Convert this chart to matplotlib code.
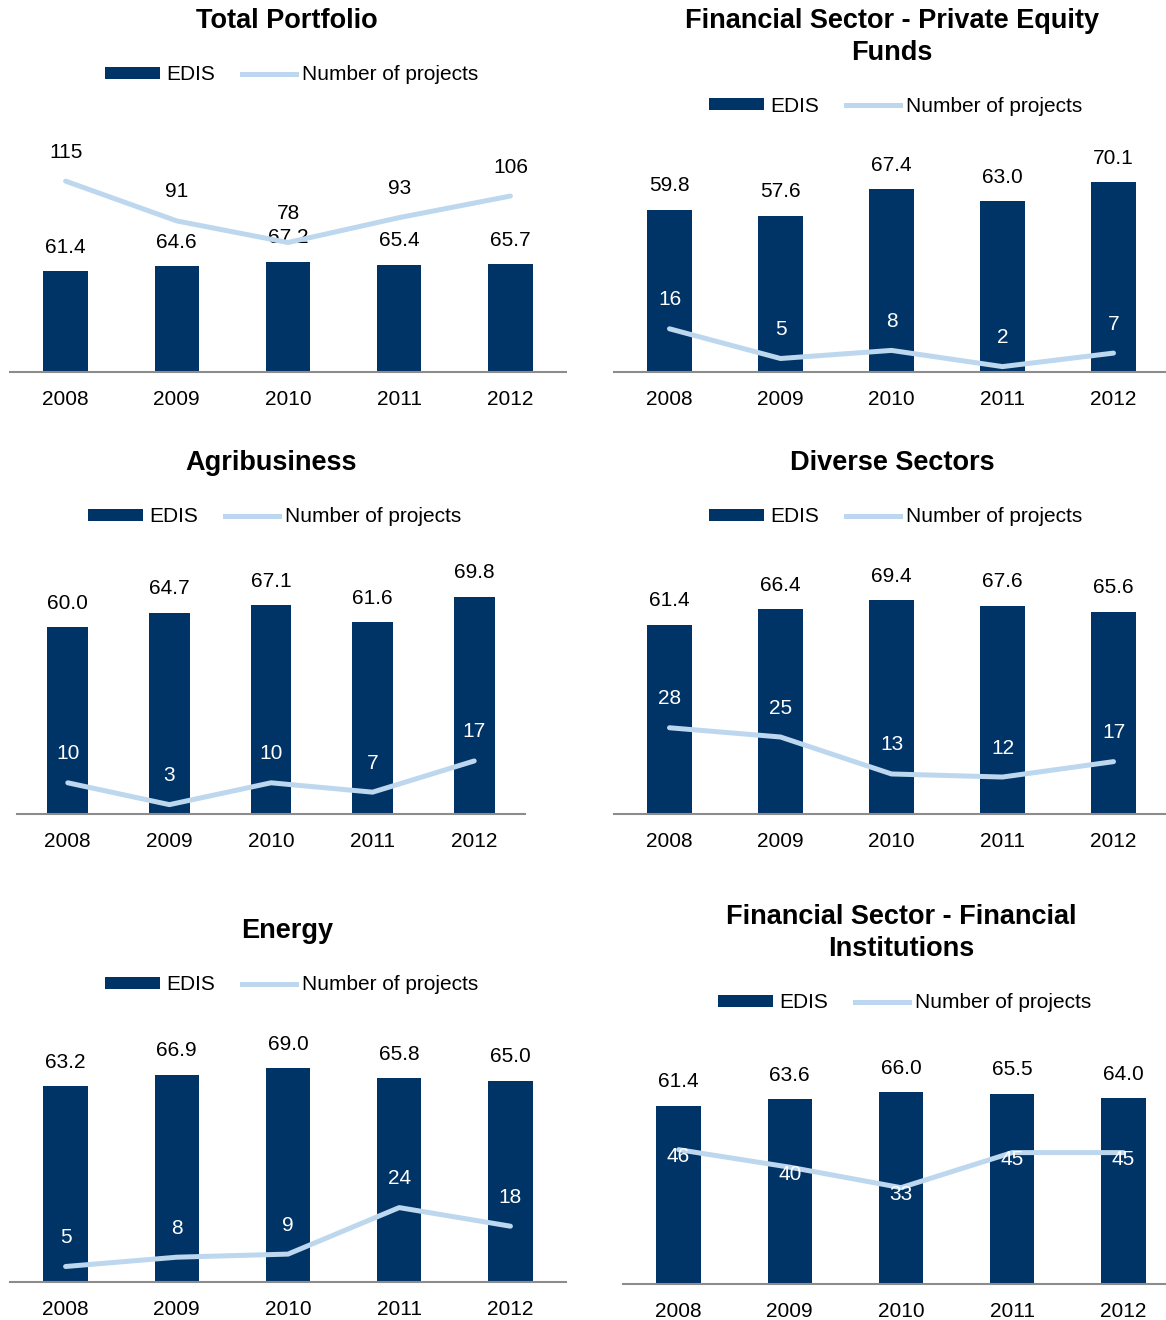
import matplotlib
matplotlib.use('Agg')
import matplotlib.pyplot as plt
from matplotlib.patches import Patch
from matplotlib.lines import Line2D

plt.rcParams['font.family'] = ['Liberation Sans', 'DejaVu Sans']

years = ['2008', '2009', '2010', '2011', '2012']

total_edis = [61.4, 64.6, 67.2, 65.4, 65.7]
total_projects = [115, 91, 78, 93, 106]

pe_edis = [59.8, 57.6, 67.4, 63.0, 70.1]
pe_projects = [16, 5, 8, 2, 7]

agri_edis = [60.0, 64.7, 67.1, 61.6, 69.8]
agri_projects = [10, 3, 10, 7, 17]

diverse_edis = [61.4, 66.4, 69.4, 67.6, 65.6]
diverse_projects = [28, 25, 13, 12, 17]

energy_edis = [63.2, 66.9, 69.0, 65.8, 65.0]
energy_projects = [5, 8, 9, 24, 18]

fi_edis = [61.4, 63.6, 66.0, 65.5, 64.0]
fi_projects = [46, 40, 33, 45, 45]

NAVY = '#003366'
LIGHT = '#BDD7EE'
W, H = 1166, 1320
FS = 15

# layout in pixels: axis left/right, baseline, px per unit (bars, line),
# title centre, legend centre, line label colour and offset
panels = [
    dict(title='Total Portfolio', edis=total_edis, proj=total_projects,
         x0=10, x1=566, base=372, sb=1.637, sl=1.66,
         tpos=(287, 21), lpos=(292, 75), lcol='black', loff=29),
    dict(title='Financial Sector - Private Equity\nFunds', edis=pe_edis, proj=pe_projects,
         x0=614, x1=1169, base=372, sb=2.71, sl=2.7,
         tpos=(892, 37), lpos=(896, 106), lcol='white', loff=29),
    dict(title='Agribusiness', edis=agri_edis, proj=agri_projects,
         x0=17, x1=525, base=814, sb=3.11, sl=3.12,
         tpos=(271, 463), lpos=(275, 517), lcol='white', loff=29),
    dict(title='Diverse Sectors', edis=diverse_edis, proj=diverse_projects,
         x0=614, x1=1169, base=814, sb=3.08, sl=3.08,
         tpos=(892, 463), lpos=(896, 517), lcol='white', loff=29),
    dict(title='Energy', edis=energy_edis, proj=energy_projects,
         x0=10, x1=566, base=1282, sb=3.10, sl=3.1,
         tpos=(287, 931), lpos=(292, 985), lcol='white', loff=29),
    dict(title='Financial Sector - Financial\nInstitutions', edis=fi_edis, proj=fi_projects,
         x0=623, x1=1179, base=1284, sb=2.905, sl=2.92,
         tpos=(901, 933), lpos=(905, 1003), lcol='white', loff=-7),
]

fig = plt.figure(figsize=(W / 100, H / 100), dpi=100)
AX_H = 260

for p in panels:
    ax = fig.add_axes([p['x0'] / W, 1 - p['base'] / H, (p['x1'] - p['x0']) / W, AX_H / H])
    x = range(len(years))
    bars = ax.bar(x, p['edis'], width=0.4, color=NAVY, zorder=2)
    ax.set_xlim(-0.5, len(years) - 0.5)
    ax.set_ylim(0, AX_H / p['sb'])
    for b, v in zip(bars, p['edis']):
        ax.annotate(f'{v:.1f}', (b.get_x() + b.get_width() / 2, v),
                    xytext=(0, 24), textcoords='offset pixels',
                    ha='center', va='center', fontsize=FS, color='black')
    ax.set_xticks(list(x))
    ax.set_xticklabels(years, fontsize=FS)
    ax.tick_params(axis='x', length=0, pad=13)
    ax.set_yticks([])
    for s in ['top', 'left', 'right']:
        ax.spines[s].set_visible(False)
    ax.spines['bottom'].set_color('#8C8C8C')
    ax.spines['bottom'].set_linewidth(1.5)
    ax.patch.set_visible(False)

    ax2 = ax.twinx()
    ax2.plot(list(x), p['proj'], color=LIGHT, lw=3.6, solid_capstyle='round', zorder=3)
    ax2.set_ylim(0, AX_H / p['sl'])
    ax2.set_yticks([])
    for s in ax2.spines.values():
        s.set_visible(False)
    for i, v in enumerate(p['proj']):
        ax2.annotate(str(v), (i, v), xytext=(0, p['loff']), textcoords='offset pixels',
                     ha='center', va='center', fontsize=FS, color=p['lcol'])

    fig.text(p['tpos'][0] / W, 1 - p['tpos'][1] / H, p['title'], ha='center', va='center',
             fontsize=19.5, fontweight='bold', linespacing=1.25)

    handles = [Patch(facecolor=NAVY, edgecolor='none'),
               Line2D([], [], color=LIGHT, lw=3.6)]
    fig.legend(handles, ['EDIS', 'Number of projects'], loc='center',
               bbox_to_anchor=(p['lpos'][0] / W, 1 - p['lpos'][1] / H),
               ncol=2, frameon=False, fontsize=FS, handlelength=2.6,
               handleheight=0.5, handletextpad=0.3, columnspacing=1.3)

fig.savefig('out.png', dpi=100)
